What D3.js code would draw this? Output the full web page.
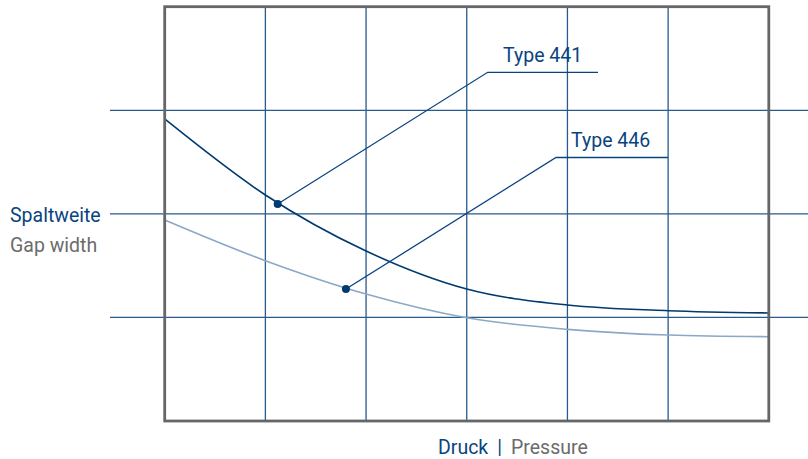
<!DOCTYPE html>
<html>
<head>
<meta charset="utf-8">
<script src="https://cdn.jsdelivr.net/npm/d3@7"></script>
<style>
  html, body { margin: 0; padding: 0; background: #fff; }
  svg { display: block; font-family: Roboto, "Noto Sans", sans-serif; }
</style>
</head>
<body>
<svg id="chart" width="808" height="459"></svg>
<script>
// ---- data ----
const pressureSteps = [0, 1, 2, 3, 4, 5, 6];
const type441 = [2.916, 2.182, 1.641, 1.274, 1.120, 1.065, 1.043];
const type446 = [1.941, 1.548, 1.226, 0.997, 0.885, 0.830, 0.814];
const seriesNames = ["Type 441", "Type 446"];
const markerX = [1.122, 1.80];
const markerY = [2.095, 1.274];
const yLabel = ["Spaltweite", "Gap width"];
const xLabel = ["Druck", "|", "Pressure"];
const xGrid = [1, 2, 3, 4, 5];
const yGrid = [1, 2, 3];

// ---- layout ----
const svg = d3.select("#chart");
const x = d3.scaleLinear().domain([0, 6]).range([164.7, 768.8]);
const y = d3.scaleLinear().domain([0, 4]).range([421, 6.7]);

const navy = "#0a4480";
const gridCol = "#275a8d";
const lightCurve = "#8ba8c6";

// vertical grid lines (inside frame)
svg.append("g").selectAll("line").data(xGrid).join("line")
  .attr("x1", d => x(d)).attr("x2", d => x(d))
  .attr("y1", y(4)).attr("y2", y(0))
  .attr("stroke", gridCol).attr("stroke-width", 1.3);

// horizontal grid lines (extend beyond frame)
svg.append("g").selectAll("line").data(yGrid).join("line")
  .attr("x1", 110).attr("x2", 808)
  .attr("y1", d => y(d)).attr("y2", d => y(d))
  .attr("stroke", gridCol).attr("stroke-width", 1.3);

// curves
const line = d3.line().x((d, i) => x(pressureSteps[i])).y(d => y(d)).curve(d3.curveMonotoneX);
svg.append("path").attr("d", line(type446))
  .attr("fill", "none").attr("stroke", lightCurve).attr("stroke-width", 1.6);
svg.append("path").attr("d", line(type441))
  .attr("fill", "none").attr("stroke", "#003a70").attr("stroke-width", 1.6);

// frame
svg.append("rect")
  .attr("x", x(0)).attr("y", y(4))
  .attr("width", x(6) - x(0)).attr("height", y(0) - y(4))
  .attr("fill", "none").attr("stroke", "#666").attr("stroke-width", 2.8);

// annotations
const ann = [
  { elbow: [487.7, 72.3], end: 598, tx: 503, ty: 62 },
  { elbow: [556, 157.5], end: 668, tx: 571, ty: 147 }
];
seriesNames.forEach((name, i) => {
  const mx = x(markerX[i]), my = y(markerY[i]);
  const a = ann[i];
  svg.append("polyline")
    .attr("points", `${mx},${my} ${a.elbow[0]},${a.elbow[1]} ${a.end},${a.elbow[1]}`)
    .attr("fill", "none").attr("stroke", navy).attr("stroke-width", 1.3);
  svg.append("circle").attr("cx", mx).attr("cy", my).attr("r", 4).attr("fill", "#003a70");
  svg.append("text").attr("x", a.tx).attr("y", a.ty)
    .attr("font-size", 19.5).attr("fill", navy).text(name);
});

// y label
svg.append("text").attr("x", 10).attr("y", 222)
  .attr("font-size", 19.5).attr("fill", navy).text(yLabel[0]);
svg.append("text").attr("x", 10).attr("y", 251.5)
  .attr("font-size", 19.5).attr("fill", "#6b6b6b").text(yLabel[1]);

// x label
const xl = svg.append("text").attr("x", 438).attr("y", 453.5).attr("font-size", 19.5);
xl.append("tspan").attr("fill", navy).text(xLabel[0]);
xl.append("tspan").attr("fill", navy).attr("dx", 9).text(xLabel[1]);
xl.append("tspan").attr("fill", "#6b6b6b").attr("dx", 9).text(xLabel[2]);
</script>
</body>
</html>
